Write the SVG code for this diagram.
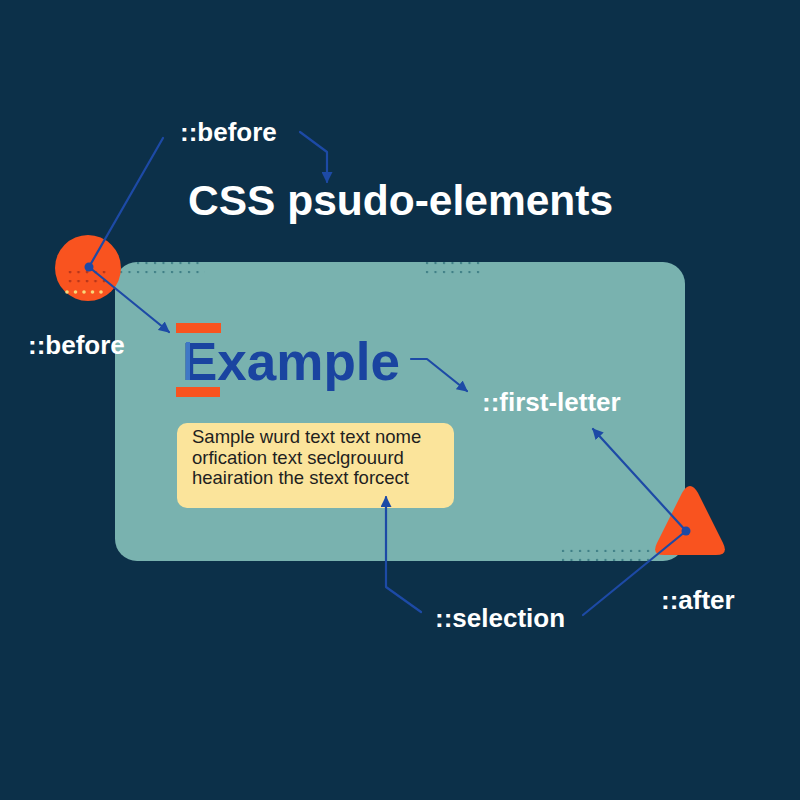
<svg xmlns="http://www.w3.org/2000/svg" width="800" height="800" viewBox="0 0 800 800">
  <defs>
    <marker id="arr" viewBox="0 0 10 10" refX="9" refY="5" markerWidth="5" markerHeight="5" orient="auto-start-reverse" markerUnits="strokeWidth">
      <path d="M0,0 L10,5 L0,10 Z" fill="#1d4aa6"/>
    </marker>
    <pattern id="dots" width="8.5" height="9" patternUnits="userSpaceOnUse">
      <circle cx="2" cy="2" r="1.2" fill="#3f7f86"/>
    </pattern>
    <pattern id="dotsRed" width="8.5" height="9" patternUnits="userSpaceOnUse">
      <circle cx="2" cy="2" r="1.4" fill="#b8361a"/>
    </pattern>
  </defs>
  <style>
    .lbl { font-family: "Liberation Sans", Arial, sans-serif; font-weight: bold; fill: #ffffff; }
    .conn { fill: none; stroke: #1d4aa6; stroke-width: 2.2; stroke-linejoin: round; stroke-linecap: round; }
    .sample { font-family: "Liberation Sans", Arial, sans-serif; font-size: 18.5px; fill: #1f1f1f; }
  </style>

  <rect width="800" height="800" fill="#0c3049"/>

  <g id="panel">
    <rect x="115" y="262" width="570" height="299" rx="22" fill="#79b2af"/>
    <rect x="132" y="262" width="72" height="4" fill="url(#dots)"/>
    <rect x="115" y="271" width="90" height="4" fill="url(#dots)"/>
    <rect x="423" y="262" width="60" height="4" fill="url(#dots)"/>
    <rect x="423" y="271" width="60" height="4" fill="url(#dots)"/>
    <rect x="559" y="548" width="92" height="4" fill="url(#dots)"/>
    <rect x="559" y="557" width="92" height="4" fill="url(#dots)"/>
  </g>

  <g id="title">
    <text class="lbl" x="188" y="215" font-size="42.5">CSS psudo-elements</text>
  </g>

  <g id="circle-before">
    <circle cx="88" cy="268" r="33" fill="#f9531f"/>
    <rect x="64" y="271" width="42" height="4" fill="url(#dotsRed)"/>
    <rect x="64" y="280" width="42" height="4" fill="url(#dotsRed)"/>
    <g fill="#f8d77a">
      <circle cx="67" cy="292" r="1.8"/>
      <circle cx="75.5" cy="292" r="1.8"/>
      <circle cx="84" cy="292" r="1.8"/>
      <circle cx="92.5" cy="292" r="1.8"/>
      <circle cx="101" cy="292" r="1.8"/>
    </g>
  </g>

  <g id="triangle-after">
    <path d="M682,493 Q690,479 698,493 L723,543 Q729,555 716,555 L664,555 Q651,555 657,543 Z" fill="#f9531f"/>
  </g>

  <g id="label-before-top">
    <text class="lbl" x="180" y="141" font-size="26">::before</text>
  </g>
  <g id="label-before-left">
    <text class="lbl" x="28" y="354" font-size="26">::before</text>
  </g>

  <g id="example">
    <rect x="176" y="323" width="45" height="10" fill="#f9531f"/>
    <rect x="176" y="387" width="44" height="10" fill="#f9531f"/>
    <text x="182" y="380" font-family="Liberation Sans, Arial, sans-serif" font-weight="bold" font-size="53" fill="#1a44a0">Example</text>
    <rect x="186" y="342" width="4" height="38" fill="#3f78c6"/>
  </g>

  <g id="label-first-letter">
    <text class="lbl" x="482" y="411" font-size="26">::first-letter</text>
  </g>

  <g id="sample-box">
    <rect x="177" y="423" width="277" height="85" rx="10" fill="#fbe49b"/>
    <text class="sample" x="192" y="443">Sample wurd text text nome</text>
    <text class="sample" x="192" y="464">orfication text seclgrouurd</text>
    <text class="sample" x="192" y="484">heairation the stext forcect</text>
  </g>

  <g id="label-selection">
    <text class="lbl" x="435" y="627" font-size="26">::selection</text>
  </g>
  <g id="label-after">
    <text class="lbl" x="661" y="609" font-size="26">::after</text>
  </g>

  <g id="connectors">
    <path class="conn" d="M163,138 L89,267"/>
    <path class="conn" d="M89,267 L169,332" marker-end="url(#arr)"/>
    <path class="conn" d="M300,132 L327,152 L327,182" marker-end="url(#arr)"/>
    <path class="conn" d="M411,359 L427,359 L467,391" marker-end="url(#arr)"/>
    <path class="conn" d="M421,612 L386,587 L386,497" marker-end="url(#arr)"/>
    <path class="conn" d="M583,615 L686,531"/>
    <path class="conn" d="M686,531 L593,429" marker-end="url(#arr)"/>
    <circle cx="89" cy="267" r="4.5" fill="#1d4aa6"/>
    <circle cx="686" cy="531" r="4.5" fill="#1d4aa6"/>
  </g>
</svg>
